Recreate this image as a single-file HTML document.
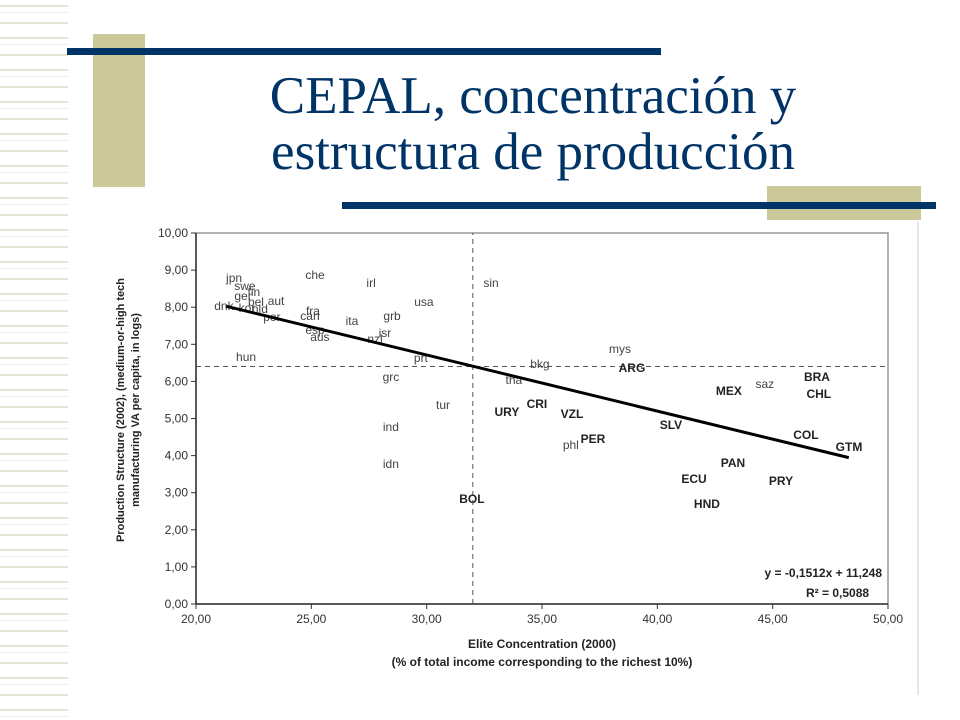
<!DOCTYPE html>
<html><head><meta charset="utf-8"><style>
body{margin:0;width:960px;height:720px;background:#fff;overflow:hidden;font-family:"Liberation Sans",sans-serif}
.abs{position:absolute}
</style></head><body>
<div class="abs" style="left:0;top:0;width:68px;height:720px;background:repeating-linear-gradient(#fff 0,#fff 5px,#e6e4d2 5px,#e6e4d2 7px,#fff 7px,#fff 12px,#efeee2 12px,#efeee2 13px,#fff 13px,#fff 22px,#e6e4d2 22px,#e6e4d2 24px,#fff 24px,#fff 32px)"></div>
<div class="abs" style="left:93px;top:34px;width:52px;height:153px;background:#cbc999"></div>
<div class="abs" style="left:67px;top:48px;width:594px;height:7px;background:#003366"></div>
<div class="abs" style="left:767px;top:186px;width:154px;height:34px;background:#cbc999"></div>
<div class="abs" style="left:342px;top:202px;width:594px;height:7px;background:#003366"></div>
<div class="abs" style="left:100px;top:68px;width:866px;text-align:center;font-family:'Liberation Serif',serif;font-size:53px;line-height:56px;color:#003366">CEPAL, concentración y<br>estructura de producción</div>
<svg class="abs" style="left:0;top:0" width="960" height="720">
<line x1="918" y1="222" x2="918" y2="695" stroke="#ccc" stroke-width="1"/>
<g id="g"></g>
</svg>
<script>
const xTicks=[20,25,30,35,40,45,50];
const yTicks=[0,1,2,3,4,5,6,7,8,9,10];
const countries=["jpn","swe","fin","ger","dnk","bel","aut","kor","nld","por","che","fra","can","esp","aus","ita","irl","usa","grb","isr","nzl","prt","hun","grc","ind","idn","tur","sin","mys","bkg","tha","ARG","URY","CRI","VZL","PER","phl","SLV","MEX","saz","BRA","CHL","COL","GTM","PAN","ECU","PRY","HND","BOL"];
const eliteX=[21.65,22.12,22.51,22.04,21.21,22.6,23.47,22.21,22.77,23.29,25.16,25.07,24.94,25.16,25.37,26.76,27.59,29.88,28.5,28.19,27.76,29.75,22.17,28.45,28.45,28.45,30.71,32.79,38.38,34.91,33.78,38.9,33.48,34.78,36.3,37.21,36.25,40.59,43.1,44.66,46.92,47.0,46.44,48.31,43.28,41.59,45.36,42.15,31.96];
const prodY=[8.79,8.57,8.41,8.3,8.03,8.14,8.17,7.98,7.95,7.74,8.87,7.9,7.76,7.39,7.2,7.63,8.65,8.14,7.76,7.3,7.14,6.63,6.66,6.12,4.77,3.77,5.36,8.65,6.87,6.47,6.04,6.36,5.18,5.39,5.12,4.45,4.29,4.82,5.74,5.93,6.12,5.66,4.56,4.23,3.8,3.37,3.32,2.7,2.83];
const slope=-0.1512, intercept=11.248, fitRange=[21.3,48.3];
const meanX=32, meanY=6.4;
const X=v=>196+(v-20)*(692/30), Y=v=>604-v*37.1;
const g=document.getElementById('g'), NS='http://www.w3.org/2000/svg';
function mk(t,a,txt){const e=document.createElementNS(NS,t);for(const k in a)e.setAttribute(k,a[k]);if(txt!=null)e.textContent=txt;g.appendChild(e);return e;}
let e;
e=mk('rect',{x:X(20),y:Y(10),width:X(50)-X(20),height:Y(0)-Y(10),fill:'#fff',stroke:'#999',"stroke-width":1.5});

e=mk('line',{x1:X(20),y1:Y(0),x2:X(50),y2:Y(0),stroke:'#333',"stroke-width":1.5});

e=mk('line',{x1:X(20),y1:Y(0),x2:X(20),y2:Y(10),stroke:'#333',"stroke-width":1.5});

xTicks.forEach(t=>{mk('line',{x1:X(t),y1:Y(0),x2:X(t),y2:Y(0)+5,stroke:'#333'});
 e=mk('text',{x:X(t),y:Y(0)+19,"text-anchor":"middle","font-size":12,fill:'#333'},t.toFixed(2).replace('.',','));
 });
yTicks.forEach(t=>{mk('line',{x1:X(20)-5,y1:Y(t),x2:X(20),y2:Y(t),stroke:'#333'});
 e=mk('text',{x:X(20)-8,y:Y(t)+4,"text-anchor":"end","font-size":12,fill:'#333'},t.toFixed(2).replace('.',','));
 });
e=mk('line',{x1:X(meanX),y1:Y(0),x2:X(meanX),y2:Y(10),stroke:'#555',"stroke-dasharray":"5,4"});

e=mk('line',{x1:X(20),y1:Y(meanY),x2:X(50),y2:Y(meanY),stroke:'#555',"stroke-dasharray":"5,4"});

countries.forEach((c,i)=>{const up=c===c.toUpperCase();
 e=mk('text',{x:X(eliteX[i]),y:Y(prodY[i])+4,"text-anchor":"middle","font-size":12,"font-weight":up?'bold':'normal',fill:up?'#222':'#444'},c);
 });
e=mk('line',{x1:X(fitRange[0]),y1:Y(slope*fitRange[0]+intercept),x2:X(fitRange[1]),y2:Y(slope*fitRange[1]+intercept),stroke:'#000',"stroke-width":3});

e=mk('text',{x:882,y:577,"text-anchor":"end","font-size":12,"font-weight":"bold",fill:'#222'},'y = -0,1512x + 11,248');

e=mk('text',{x:806,y:597,"font-size":12,"font-weight":"bold",fill:'#222'},'R² = 0,5088');

e=mk('text',{x:X(35),y:648,"text-anchor":"middle","font-size":12,"font-weight":"bold",fill:'#222'},'Elite Concentration (2000)');

e=mk('text',{x:X(35),y:666,"text-anchor":"middle","font-size":12,"font-weight":"bold",fill:'#222'},'(% of total income corresponding to the richest 10%)');

e=mk('text',{x:0,y:0,"text-anchor":"middle","font-size":11,"font-weight":"bold",fill:'#222',transform:'translate(124,410) rotate(-90)'},'Production Structure (2002), (medium-or-high tech');

e=mk('text',{x:0,y:0,"text-anchor":"middle","font-size":11,"font-weight":"bold",fill:'#222',transform:'translate(139,410) rotate(-90)'},'manufacturing VA per capita, in logs)');

</script>
</body></html>
